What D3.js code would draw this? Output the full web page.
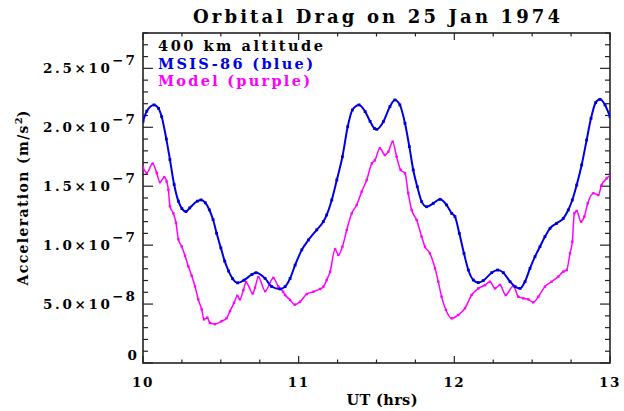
<!DOCTYPE html>
<html><head><meta charset="utf-8">
<script src="https://cdn.jsdelivr.net/npm/d3@7"></script>
<style>body{margin:0;background:#fff}svg{display:block}</style>
</head><body><svg id="c" width="624" height="411"></svg>
<script>
// ---- data (values in units of 1e-7 m/s^2, time in UT hours) ----
const blueTimes = [10.0,10.024,10.071,10.10,10.12,10.15,10.173,10.20,10.227,10.25,10.276,10.30,10.349,10.373,10.40,10.426,10.45,10.473,10.50,10.525,10.55,10.576,10.608,10.649,10.70,10.726,10.784,10.827,10.88,10.913,10.945,10.977,11.02,11.063,11.116,11.159,11.18,11.2125,11.245,11.281,11.315,11.345,11.388,11.427,11.459,11.487,11.501,11.544,11.586,11.618,11.65,11.683,11.711,11.736,11.762,11.79,11.822,11.865,11.908,11.95,11.983,12.004,12.032,12.062,12.09,12.122,12.154,12.186,12.24,12.278,12.315,12.358,12.39,12.422,12.454,12.486,12.518,12.55,12.582,12.615,12.657,12.70,12.732,12.758,12.786,12.818,12.85,12.878,12.908,12.936,12.968,13.0];
const blueValues = [2.05,2.136,2.19,2.16,2.09,1.90,1.726,1.514,1.373,1.31,1.285,1.316,1.373,1.384,1.36,1.30,1.217,1.10,0.977,0.864,0.78,0.715,0.68,0.703,0.751,0.766,0.718,0.648,0.628,0.648,0.718,0.83,0.96,1.044,1.13,1.20,1.256,1.383,1.553,1.75,2.005,2.147,2.19,2.133,2.05,1.99,1.983,2.048,2.175,2.232,2.19,2.034,1.836,1.638,1.496,1.369,1.326,1.355,1.389,1.341,1.27,1.242,1.10,0.93,0.789,0.704,0.682,0.699,0.766,0.789,0.766,0.69,0.648,0.633,0.69,0.803,0.902,0.987,1.072,1.143,1.185,1.227,1.298,1.383,1.51,1.68,1.892,2.076,2.209,2.237,2.19,2.09];
const purpleTimes = [10.0,10.024,10.062,10.088,10.109,10.137,10.152,10.163,10.173,10.195,10.212,10.227,10.248,10.27,10.291,10.313,10.334,10.355,10.377,10.392,10.413,10.43,10.463,10.505,10.537,10.559,10.585,10.606,10.623,10.645,10.662,10.705,10.72,10.741,10.785,10.837,10.87,10.90,10.913,10.945,10.975,11.009,11.052,11.095,11.138,11.159,11.18,11.202,11.234,11.255,11.281,11.309,11.341,11.373,11.405,11.437,11.47,11.49,11.522,11.554,11.576,11.604,11.629,11.655,11.683,11.704,11.726,11.758,11.79,11.811,11.843,11.876,11.897,11.918,11.946,11.983,12.025,12.068,12.111,12.154,12.197,12.229,12.261,12.293,12.33,12.379,12.411,12.443,12.475,12.507,12.54,12.582,12.625,12.668,12.70,12.722,12.743,12.758,12.771,12.786,12.814,12.835,12.857,12.893,12.925,12.946,12.979,13.0];
const purpleValues = [1.661,1.613,1.692,1.613,1.534,1.576,1.54,1.47,1.33,1.27,1.19,1.05,0.99,0.91,0.82,0.74,0.65,0.54,0.455,0.37,0.385,0.34,0.33,0.355,0.38,0.44,0.51,0.57,0.54,0.62,0.686,0.59,0.64,0.73,0.61,0.722,0.648,0.605,0.577,0.535,0.495,0.52,0.585,0.605,0.628,0.648,0.704,0.775,0.965,0.917,0.987,1.129,1.27,1.341,1.454,1.553,1.694,1.72,1.822,1.765,1.793,1.878,1.751,1.638,1.61,1.44,1.298,1.213,1.072,0.987,0.93,0.803,0.69,0.563,0.45,0.379,0.407,0.464,0.577,0.633,0.66,0.69,0.633,0.662,0.577,0.654,0.563,0.549,0.54,0.515,0.563,0.648,0.69,0.733,0.775,0.789,0.93,1.029,1.27,1.29,1.199,1.242,1.355,1.44,1.425,1.51,1.567,1.59];
const xTicks = [10, 11, 12, 13];
const yTicks = [0, 0.5, 1.0, 1.5, 2.0, 2.5];
const yTickLabels = [["0",""],["5.0×10","−8"],["1.0×10","−7"],["1.5×10","−7"],["2.0×10","−7"],["2.5×10","−7"]];
const titleText = "Orbital Drag on 25 Jan 1974";
const legendLines = [["400 km altitude","#000"],["MSIS-86 (blue)","#0000e6"],["Model (purple)","#ff00ff"]];

// ---- layout ----
const L = 143, R = 610, T = 33, B = 363;
const svg = d3.select("#c");
const x = d3.scaleLinear().domain([10, 13]).range([L, R]);
const y = d3.scaleLinear().domain([0, 2.8]).range([B, T]);
const serif = "'DejaVu Serif', serif";
const axisCol = "#222";

// ticks
const g = svg.append("g").attr("stroke", axisCol).attr("stroke-width", 1.2);
const xMinor = d3.range(10, 13.001, 0.25);
xMinor.forEach(t => {
  const major = Math.abs(t - Math.round(t)) < 1e-6;
  const len = major ? 7 : 3.5;
  g.append("line").attr("x1", x(t)).attr("x2", x(t)).attr("y1", B).attr("y2", B - len);
  g.append("line").attr("x1", x(t)).attr("x2", x(t)).attr("y1", T).attr("y2", T + len);
});
const yMinor = d3.range(0, 28.001, 1).map(d => d / 10);
yMinor.forEach((v, i) => {
  const major = i % 5 === 0;
  const len = major ? 10 : 5;
  g.append("line").attr("y1", y(v)).attr("y2", y(v)).attr("x1", L).attr("x2", L + len);
  g.append("line").attr("y1", y(v)).attr("y2", y(v)).attr("x1", R).attr("x2", R - len);
});
svg.append("rect").attr("x", L).attr("y", T).attr("width", R - L).attr("height", B - T)
  .attr("fill", "none").attr("stroke", axisCol).attr("stroke-width", 1.6);

// x tick labels
xTicks.forEach(t => {
  svg.append("text").attr("x", x(t)).attr("y", 387).attr("text-anchor", "middle")
    .attr("font-family", serif).attr("font-size", 13.5).attr("font-weight", "bold").attr("letter-spacing", 1.5)
    .attr("fill", "#000").text(t);
});
// y tick labels
yTicks.forEach((v, i) => {
  const [m, s] = yTickLabels[i];
  if (!s) {
    svg.append("text").attr("x", 137).attr("y", y(v) - 3).attr("text-anchor", "end")
      .attr("font-family", serif).attr("font-size", 13.5).attr("font-weight", "bold").attr("fill", "#000").text(m);
  } else {
    const t = svg.append("text").attr("font-family", serif).attr("font-size", 13.5).attr("font-weight", "bold").attr("fill", "#000");
    t.append("tspan").attr("x", 43).attr("y", y(v) + 5).attr("textLength", 67).attr("lengthAdjust", "spacing").text(m);
    t.append("tspan").attr("x", 112).attr("y", y(v) - 3).attr("textLength", 23).attr("lengthAdjust", "spacing").text(s);
  }
});

// axis titles
svg.append("text").attr("x", 382).attr("y", 405).attr("text-anchor", "middle")
  .attr("font-family", serif).attr("font-size", 14.5).attr("font-weight", "bold").attr("textLength", 71).attr("lengthAdjust", "spacing")
  .attr("fill", "#000").text("UT (hrs)");
const yl = svg.append("text").attr("transform", "translate(28,198) rotate(-90)").attr("text-anchor", "middle")
  .attr("font-family", serif).attr("font-size", 14).attr("font-weight", "bold").attr("fill", "#000");
yl.append("tspan").attr("textLength", 160).attr("lengthAdjust", "spacing").text("Acceleration (m/s");
yl.append("tspan").attr("dy", -6).attr("font-size", 10).text("2");
yl.append("tspan").attr("dy", 6).text(")");

// title
svg.append("text").attr("x", 193).attr("y", 23).attr("font-family", serif).attr("font-size", 18).attr("font-weight", "bold")
  .attr("textLength", 367).attr("lengthAdjust", "spacing").attr("fill", "#000").text(titleText);

// legend
const legW = [165, 155, 152];
legendLines.forEach((d, i) => {
  svg.append("text").attr("x", 158).attr("y", 51 + i * 17.5).attr("font-family", serif)
    .attr("font-size", 14.5).attr("font-weight", "bold").attr("textLength", legW[i]).attr("lengthAdjust", "spacing")
    .attr("fill", d[1]).text(d[0]);
});

// series
const clip = svg.append("clipPath").attr("id", "clp").append("rect")
  .attr("x", L).attr("y", T).attr("width", R - L).attr("height", B - T);
const line = d3.line().x(d => x(d[0])).y(d => y(d[1])).curve(d3.curveMonotoneX);
const blue = blueTimes.map((t, i) => [t, blueValues[i]]);
const purple = purpleTimes.map((t, i) => [t, purpleValues[i]]);
const pg = svg.append("g").attr("clip-path", "url(#clp)");
pg.append("path").datum(purple).attr("d", line).attr("fill", "none").attr("stroke", "#ff00ff").attr("stroke-width", 1.5);
pg.selectAll(".pm").data(purple).enter().append("rect").attr("x", d => x(d[0]) - 1.2).attr("y", d => y(d[1]) - 1.2)
  .attr("width", 2.4).attr("height", 2.4).attr("fill", "#ff00ff");
pg.append("path").datum(blue).attr("d", line).attr("fill", "none").attr("stroke", "#0000e6").attr("stroke-width", 2);
pg.selectAll(".bm").data(blue).enter().append("rect").attr("x", d => x(d[0]) - 1.4).attr("y", d => y(d[1]) - 1.4)
  .attr("width", 2.8).attr("height", 2.8).attr("fill", "#0000cc");
</script></body></html>
